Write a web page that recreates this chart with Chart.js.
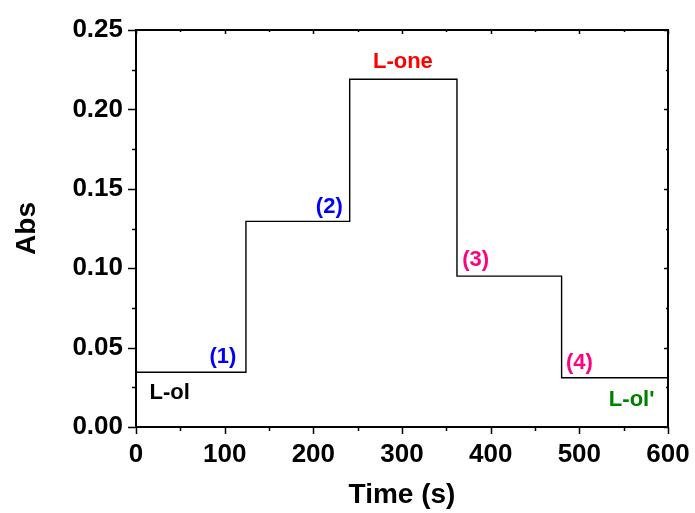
<!DOCTYPE html>
<html>
<head>
<meta charset="utf-8">
<script src="https://cdn.jsdelivr.net/npm/chart.js@4"></script>
<style>
html,body{margin:0;padding:0;background:#fff;}
#wrap{width:695px;height:513px;}
</style>
</head>
<body>
<div id="wrap"><canvas id="c" width="695" height="513"></canvas></div>
<script>
// Step boundaries (s) and plateau absorbance levels
const stepTimes = [0, 124, 241, 362, 480, 600];
const levels = [0.0345, 0.1295, 0.219, 0.095, 0.031];
const xTicks = [0, 100, 200, 300, 400, 500, 600];
const yTicks = [0.00, 0.05, 0.10, 0.15, 0.20, 0.25];
// Annotations
const annoText = ["L-ol", "(1)", "(2)", "L-one", "(3)", "(4)", "L-ol'"];
const annoX = [38, 98, 218, 301, 383, 500, 559];
const annoY = [0.0214, 0.044, 0.1385, 0.2298, 0.105, 0.0403, 0.017];
const annoColor = ["#000000", "#0000ff", "#0000ff", "#ff0000", "#ff0080", "#ff0080", "#008000"];

const pts = [];
for (let i = 0; i < levels.length; i++) {
  pts.push({x: stepTimes[i], y: levels[i]});
  pts.push({x: stepTimes[i + 1], y: levels[i]});
}

const FONT = "'Liberation Sans', Arial, sans-serif";

const framePlugin = {
  id: 'frame',
  afterDraw(chart) {
    const ctx = chart.ctx, a = chart.chartArea;
    const xs = chart.scales.x, ys = chart.scales.y;
    ctx.save();
    ctx.strokeStyle = '#000';
    ctx.lineWidth = 2;
    ctx.strokeRect(a.left, a.top, a.right - a.left, a.bottom - a.top);
    ctx.lineWidth = 1.5;
    ctx.beginPath();
    for (let v = 0; v <= 600; v += 50) {
      const px = Math.round(xs.getPixelForValue(v)) + 0.5;
      const major = v % 100 === 0;
      ctx.moveTo(px, a.bottom); ctx.lineTo(px, a.bottom + (major ? 7 : 4));
      ctx.moveTo(px, a.top); ctx.lineTo(px, a.top + (major ? 4 : 2));
    }
    for (let k = 0; k <= 10; k++) {
      const v = k * 0.025;
      const py = Math.round(ys.getPixelForValue(v)) + 0.5;
      const major = k % 2 === 0;
      ctx.moveTo(a.left, py); ctx.lineTo(a.left - (major ? 8 : 4), py);
      ctx.moveTo(a.right, py); ctx.lineTo(a.right - (major ? 4 : 2), py);
    }
    ctx.stroke();
    // annotations
    ctx.font = "bold 22px " + FONT;
    ctx.textAlign = 'center';
    ctx.textBaseline = 'middle';
    for (let i = 0; i < annoText.length; i++) {
      ctx.fillStyle = annoColor[i];
      ctx.fillText(annoText[i], xs.getPixelForValue(annoX[i]), ys.getPixelForValue(annoY[i]));
    }
    ctx.restore();
  }
};

new Chart(document.getElementById('c'), {
  type: 'line',
  data: {
    datasets: [{
      data: pts,
      borderColor: '#000',
      borderWidth: 1.4,
      pointRadius: 0,
      fill: false,
      tension: 0
    }]
  },
  options: {
    responsive: false,
    animation: false,
    events: [],
    layout: {padding: {top: 30, right: 27, left: 0, bottom: 0}},
    plugins: {legend: {display: false}, tooltip: {enabled: false}},
    scales: {
      x: {
        type: 'linear', min: 0, max: 600,
        afterFit(s) { s.height = 86; },
        afterBuildTicks(s) { s.ticks = xTicks.map(v => ({value: v})); },
        grid: {display: true, drawOnChartArea: false, color: 'rgba(0,0,0,0)', tickLength: 8},
        border: {display: false},
        ticks: {color: '#000', font: {family: FONT, size: 26, weight: 'bold'}, padding: 4, maxRotation: 0},
        title: {display: true, text: 'Time (s)', color: '#000', font: {family: FONT, size: 28, weight: 'bold'}, padding: {top: 0, bottom: 1}}
      },
      y: {
        type: 'linear', min: 0, max: 0.25,
        afterFit(s) { s.width = 136; },
        afterBuildTicks(s) { s.ticks = yTicks.map(v => ({value: v})); },
        grid: {display: true, drawOnChartArea: false, color: 'rgba(0,0,0,0)', tickLength: 8},
        border: {display: false},
        ticks: {color: '#000', font: {family: FONT, size: 26, weight: 'bold'}, padding: 5, callback: v => Number(v).toFixed(2)},
        title: {display: true, text: 'Abs', color: '#000', font: {family: FONT, size: 28, weight: 'bold'}, padding: {top: 10, bottom: 0}}
      }
    }
  },
  plugins: [framePlugin]
});
</script>
</body>
</html>
